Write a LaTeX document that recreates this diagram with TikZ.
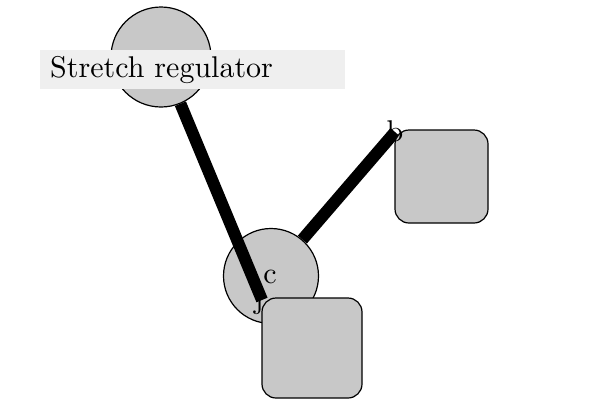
\documentclass[tikz,border=0pt]{standalone}
\usepackage{graphicx}
\usetikzlibrary{positioning}
\definecolor{nodegray}{HTML}{C8C8C8}
\definecolor{labelgray}{HTML}{EFEFEF}
\tikzset{
  roundnode/.style={circle, draw=black, line width=1.2pt, fill=nodegray, inner sep=0pt},
  squarenode/.style={rectangle, rounded corners=14pt, draw=black, line width=1.2pt, fill=nodegray, inner sep=0pt},
  thickedge/.style={line width=12pt, black},
  letter/.style={inner sep=0pt, text=black},
  labelbox/.style={fill=labelgray, inner sep=0pt, anchor=north west, minimum width=305pt, minimum height=39pt, text width=285pt, align=left}
}
\begin{document}
\begin{tikzpicture}[x=1pt,y=-1pt]
\useasboundingbox (0,0) rectangle (600,400);
\node[roundnode, minimum size=100pt] (top) at (161,57) {};
\node[labelbox] (lbl) at (40,50) {\scalebox{3}{Stretch regulator}};
\node[roundnode, minimum size=95pt] (c) at (271,276) {};
\node[letter] (clab) at (270,277) {\scalebox{3}{c}};
\coordinate (j) at (262,300);
\coordinate (b) at (395,132);
\draw[thickedge] (top) -- (j);
\draw[thickedge] (c) -- (b);
\node[letter] (jlab) at (259,302) {\scalebox{3}{j}};
\node[squarenode, minimum width=100pt, minimum height=100pt] (sqj) at (312,348) {};
\node[squarenode, minimum width=93pt, minimum height=93pt] (sqb) at (441.5,176.5) {};
\node[letter] (blab) at (395,131) {\scalebox{3}{b}};
\end{tikzpicture}
\end{document}
